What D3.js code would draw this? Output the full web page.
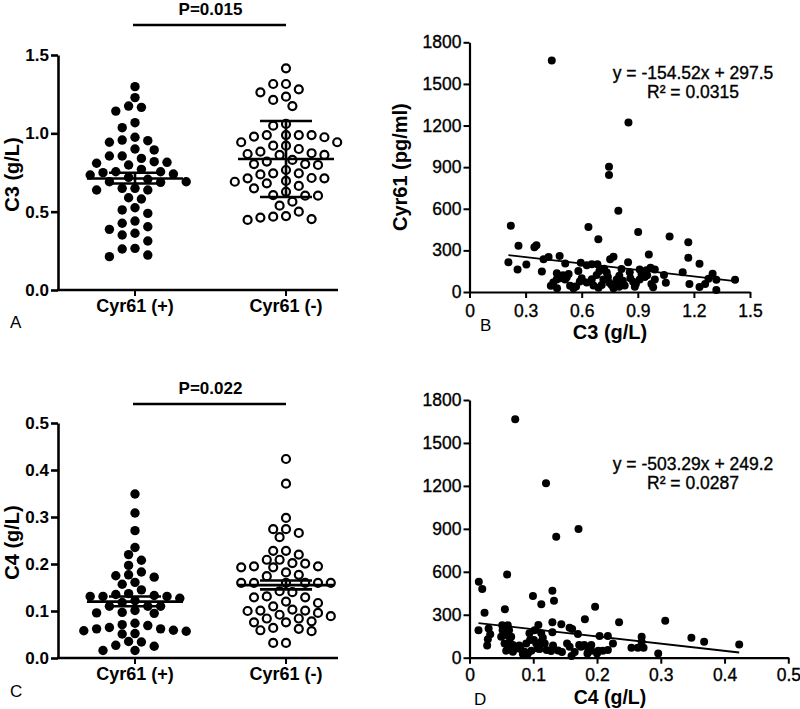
<!DOCTYPE html>
<html><head><meta charset="utf-8">
<script src="https://cdn.jsdelivr.net/npm/d3@7"></script>
<style>
html,body{margin:0;padding:0;background:#fff;}
svg{display:block;font-family:"Liberation Sans",Arial,sans-serif;}
</style></head>
<body>
<svg id="chart" width="800" height="709"></svg>
<script>
// ---------------- DATA ----------------
const groups = ["Cyr61 (+)", "Cyr61 (-)"];
const c3Pos = [1.298,1.228,1.174,1.142,1.166,1.068,1.036,0.957,0.943,0.953,0.975,0.900,0.894,0.855,0.819,0.855,0.815,0.840,0.809,0.798,0.734,0.755,0.749,0.770,0.755,0.707,0.691,0.687,0.691,0.719,0.740,0.649,0.638,0.638,0.649,0.581,0.589,0.511,0.525,0.489,0.440,0.426,0.387,0.404,0.351,0.362,0.313,0.262,0.266,0.213,0.223];
const c3Neg = [1.415,1.315,1.315,1.262,1.281,1.234,1.213,1.174,1.049,1.060,0.975,0.943,0.989,0.989,0.989,0.989,0.979,0.883,0.868,0.921,0.900,0.921,0.943,0.862,0.862,0.873,0.804,0.766,0.830,0.820,0.696,0.745,0.738,0.745,0.798,0.804,0.713,0.681,0.715,0.664,0.691,0.713,0.627,0.602,0.649,0.602,0.606,0.564,0.538,0.468,0.462,0.447,0.453,0.472,0.500];
const c4Pos = [0.349,0.3085,0.271,0.235,0.220,0.208,0.197,0.177,0.172,0.175,0.183,0.157,0.161,0.145,0.133,0.131,0.131,0.131,0.135,0.137,0.118,0.122,0.127,0.110,0.110,0.110,0.096,0.095,0.097,0.101,0.071,0.065,0.069,0.074,0.062,0.058,0.052,0.051,0.057,0.059,0.062,0.034,0.025,0.016,0.016,0.027,0.035];
const c4Neg = [0.4234,0.371,0.298,0.274,0.266,0.274,0.257,0.228,0.220,0.228,0.209,0.209,0.201,0.195,0.193,0.193,0.195,0.202,0.182,0.177,0.174,0.160,0.160,0.160,0.160,0.160,0.160,0.140,0.129,0.120,0.117,0.129,0.131,0.142,0.110,0.103,0.101,0.100,0.092,0.084,0.089,0.096,0.101,0.084,0.078,0.076,0.062,0.057,0.059,0.064,0.076,0.032,0.032];
const c3Mean = [0.712, 0.836], c3Low = [0.680, 0.594], c3High = [0.748, 1.079];
const c4Mean = [0.120, 0.155], c4Low = [0.110, 0.146], c4High = [0.131, 0.165];
const pLabels = ["P=0.015", "P=0.022"];
const c3Ticks = [0, 0.5, 1.0, 1.5];
const c4Ticks = [0, 0.1, 0.2, 0.3, 0.4, 0.5];
const cyrTicks = [0, 300, 600, 900, 1200, 1500, 1800];
const c3xTicks = [0, 0.3, 0.6, 0.9, 1.2, 1.5];
const c4xTicks = [0, 0.1, 0.2, 0.3, 0.4, 0.5];

const bX = [0.44,0.85,0.746,0.746,0.796,0.221,0.636,0.902,0.689,1.07,1.17,0.262,0.347,0.358,0.959,1.17,1.23,
 0.208,0.257,0.304,0.387,0.396,0.423,0.482,0.512,0.435,0.448,0.466,0.484,0.52,0.468,0.538,0.556,0.582,0.595,0.627,0.654,0.59,0.627,0.654,0.68,0.663,0.684,0.695,0.707,0.716,0.734,0.752,0.77,0.748,0.76,0.77,0.787,0.801,0.813,0.79,0.82,0.83,0.848,0.857,0.875,0.884,0.91,0.91,0.937,0.946,0.968,0.973,0.982,0.991,0.991,1.04,1.05,1.14,1.176,1.23,1.26,1.278,1.30,1.32,1.32,1.42,
 0.467,0.485,0.511,0.561,0.72,0.74,0.80,0.86,0.92,0.95,0.60,0.57,0.53,0.50,0.69,0.89];
const bY = [1668,1221,903,843,586,478,469,433,381,400,358,334,322,337,270,247,204,
 214,163,198,147,236,253,260,205,45,69,91,100,107,27,45,27,151,211,192,200,76,68,92,123,46,200,152,50,91,140,236,255,67,50,27,91,118,166,55,81,46,215,142,74,38,163,91,108,156,175,58,34,91,163,123,67,142,58,36,58,96,132,89,14,89,
 135,110,91,38,168,108,37,100,130,120,100,40,130,120,30,60];

const dX = [0.0717,0.120,0.171,0.136,0.0146,0.020,0.059,0.130,0.0995,0.1126,0.1325,0.0236,0.0555,0.197,0.181,0.2346,0.307,0.348,0.368,0.423,0.296,
 0.0141,0.030,0.0325,0.0288,0.0277,0.0513,0.06,0.052,0.062,0.0497,0.0576,0.0654,0.055,0.0628,0.068,0.0576,0.062,0.073,0.068,0.080,0.0837,0.0863,0.0915,0.097,0.089,0.095,0.094,0.102,0.101,0.1047,0.107,0.1125,0.1125,0.118,0.121,0.108,0.130,0.130,0.131,0.128,0.139,0.144,0.157,0.161,0.153,0.157,0.16,0.170,0.172,0.175,0.180,0.186,0.191,0.191,0.202,0.204,0.209,0.217,0.217,0.225,0.254,0.264,0.27,0.27,0.273,
 0.078,0.115,0.145,0.185,0.2,0.09,0.11,0.165];
const dY = [1665,1218,899,845,531,480,582,468,431,373,398,314,338,356,268,247,258,140,112,93,30,
 192,204,163,128,86,227,227,192,192,146,158,146,100,112,88,49,65,65,42,61,26,42,30,49,100,123,170,192,123,100,65,170,112,100,53,229,248,178,86,46,51,233,210,201,100,77,12,165,88,77,88,65,88,49,49,152,49,152,53,100,70,70,146,112,70,
 85,140,40,30,30,20,60,40];

const fitB = {slope: -154.52, intercept: 297.5, eq: "y = -154.52x + 297.5", r2: "R² = 0.0315"};
const fitD = {slope: -503.29, intercept: 249.2, eq: "y = -503.29x + 249.2", r2: "R² = 0.0287"};

// ---------------- DRAW ----------------
const FONT = '"Liberation Sans",Arial,sans-serif';
const svg = d3.select("#chart");
svg.append("rect").attr("width",800).attr("height",709).attr("fill","#fff");

// beeswarm: candidate offsets in half-column steps, nearest to centre first
function swarm(vals, y, cx, half, minDist) {
  const order = d3.range(vals.length).sort((a,b)=>vals[b]-vals[a]);
  const placed = [], out = new Array(vals.length);
  for (const i of order) {
    const py = y(vals[i]);
    for (let k=0;k<80;k++){
      const c = k===0?0:(k%2 ? -Math.ceil(k/2) : Math.ceil(k/2));
      const px = cx + c*half;
      if (!placed.some(p=>Math.hypot(p.x-px,p.y-py)<minDist)) { placed.push({x:px,y:py}); out[i]={x:px,y:py}; break; }
    }
  }
  return out;
}

function dotPanel(o) {
  const g = svg.append("g");
  const y = d3.scaleLinear().domain(o.domain).range([o.y0, o.y1]);
  const x = d3.scalePoint().domain(groups).range([135, 286]);
  const ya = g.append("g").attr("transform",`translate(58,0)`)
    .call(d3.axisLeft(y).tickValues(o.ticks).tickFormat(d3.format(".1f")).tickSize(7).tickSizeOuter(0).tickPadding(2));
  ya.select(".domain").attr("stroke","#000").attr("stroke-width",2.6);
  ya.selectAll(".tick line").attr("stroke","#000").attr("stroke-width",2.6);
  ya.selectAll(".tick text").attr("font-size",17).attr("font-weight","bold").attr("fill","#000").attr("font-family",FONT);
  g.append("line").attr("x1",57).attr("x2",338).attr("y1",o.y0).attr("y2",o.y0).attr("stroke","#000").attr("stroke-width",2.6);
  groups.forEach(c=>{
    g.append("line").attr("x1",x(c)).attr("x2",x(c)).attr("y1",o.y0).attr("y2",o.y0+6).attr("stroke","#000").attr("stroke-width",2);
    g.append("text").attr("x",x(c)).attr("y",o.y0+22).attr("text-anchor","middle")
      .attr("font-size",18).attr("font-weight","bold").text(c);
  });
  g.append("text").attr("transform",`translate(19,${(o.y0+o.y1)/2+2}) rotate(-90)`).attr("text-anchor","middle")
    .attr("font-size",20).attr("font-weight","bold").text(o.title);
  const posPts = swarm(o.pos, y, x(groups[0]), 6.4, o.gap);
  const negPts = swarm(o.neg, y, x(groups[1]), 6.4, o.gap);
  g.append("g").selectAll("circle").data(posPts).join("circle")
    .attr("cx",d=>d.x).attr("cy",d=>d.y).attr("r",4.7).attr("fill","#000");
  g.append("g").selectAll("circle").data(negPts).join("circle")
    .attr("cx",d=>d.x).attr("cy",d=>d.y).attr("r",4.0).attr("fill","#fff").attr("stroke","#000").attr("stroke-width",2.2);
  groups.forEach((c,i)=>{
    const cx = x(c);
    const ln = (x1,y1,x2,y2)=>g.append("line").attr("x1",x1).attr("y1",y1).attr("x2",x2).attr("y2",y2).attr("stroke","#000").attr("stroke-width",2.6);
    ln(cx-48, y(o.mean[i]), cx+48, y(o.mean[i]));
    ln(cx, y(o.low[i]), cx, y(o.high[i]));
    ln(cx-26, y(o.low[i]), cx+26, y(o.low[i]));
    ln(cx-26, y(o.high[i]), cx+26, y(o.high[i]));
  });
  g.append("line").attr("x1",x(groups[0])-2).attr("x2",x(groups[1])).attr("y1",o.pY).attr("y2",o.pY).attr("stroke","#000").attr("stroke-width",2.4);
  g.append("text").attr("x",(x(groups[0])+x(groups[1]))/2).attr("y",o.pY-10).attr("text-anchor","middle")
    .attr("font-size",17).attr("font-weight","bold").text(o.p);
  g.append("text").attr("x",10).attr("y",o.letterY).attr("font-size",17).text(o.letter);
}

dotPanel({domain:[0,1.5], y0:290, y1:55, ticks:c3Ticks, title:"C3 (g/L)", pos:c3Pos, neg:c3Neg, gap:10.5,
  mean:c3Mean, low:c3Low, high:c3High, p:pLabels[0], pY:25, letter:"A", letterY:328});
dotPanel({domain:[0,0.5], y0:658, y1:423, ticks:c4Ticks, title:"C4 (g/L)", pos:c4Pos, neg:c4Neg, gap:9.2,
  mean:c4Mean, low:c4Low, high:c4High, p:pLabels[1], pY:404, letter:"C", letterY:697});

function scatterPanel(o) {
  const g = svg.append("g");
  const x = d3.scaleLinear().domain(o.xDomain).range([469.5, o.xEnd]);
  const y = d3.scaleLinear().domain([0,1800]).range([o.y0, o.y1]);
  const ya = g.append("g").attr("transform","translate(469.5,0)")
    .call(d3.axisLeft(y).tickValues(cyrTicks).tickFormat(d3.format("d")).tickSize(6).tickSizeOuter(0).tickPadding(2));
  const xa = g.append("g").attr("transform",`translate(0,${o.y0})`)
    .call(d3.axisBottom(x).tickValues(o.xTicks).tickFormat(d=>d===0?"0":d3.format(".1f")(d)).tickSize(6).tickSizeOuter(0).tickPadding(o.xPad));
  [ya,xa].forEach(a=>{
    a.select(".domain").attr("stroke","#000").attr("stroke-width",2.2);
    a.selectAll(".tick line").attr("stroke","#000").attr("stroke-width",2);
    a.selectAll(".tick text").attr("font-size",17.5).attr("fill","#000").attr("stroke","#000").attr("stroke-width",0.35)
      .attr("font-family",FONT);
  });
  const pts = o.xs.map((v,i)=>({x:v,y:o.ys[i]}));
  g.append("g").selectAll("circle").data(pts).join("circle")
    .attr("cx",d=>x(d.x)).attr("cy",d=>y(d.y)).attr("r",4).attr("fill","#000");
  const [xmin,xmax] = d3.extent(o.xs);
  g.append("line").attr("x1",x(xmin)).attr("y1",y(o.fit.slope*xmin+o.fit.intercept))
    .attr("x2",x(xmax)).attr("y2",y(o.fit.slope*xmax+o.fit.intercept)).attr("stroke","#000").attr("stroke-width",1.8);
  [o.fit.eq, o.fit.r2].forEach((t,i)=>
    g.append("text").attr("x",693).attr("y",o.eqY+19*i).attr("text-anchor","middle").attr("font-size",17.5)
      .attr("stroke","#000").attr("stroke-width",0.35).text(t));
  g.append("text").attr("x",610).attr("y",o.xTitleY).attr("text-anchor","middle").attr("font-size",o.xTitleSize).attr("font-weight","bold").text(o.xTitle);
  if (o.yTitle) g.append("text").attr("transform",`translate(407,${(o.y0+o.y1)/2})rotate(-90)`).attr("text-anchor","middle")
      .attr("font-size",20).attr("font-weight","bold").text(o.yTitle);
  g.append("text").attr("x",o.letterX).attr("y",o.letterY).attr("font-size",17).text(o.letter);
}

scatterPanel({xDomain:[0,1.5], xEnd:750, y0:292, y1:42.3, xTicks:c3xTicks, xPad:7, xs:bX, ys:bY, fit:fitB,
  eqY:79, xTitle:"C3 (g/L)", xTitleY:339, xTitleSize:20, yTitle:"Cyr61 (pg/ml)", letter:"B", letterX:480, letterY:331});
scatterPanel({xDomain:[0,0.5], xEnd:788.3, y0:657.7, y1:400, xTicks:c4xTicks, xPad:5, xs:dX, ys:dY, fit:fitD,
  eqY:470, xTitle:"C4 (g/L)", xTitleY:704, xTitleSize:19.5, yTitle:null, letter:"D", letterX:474, letterY:705});
</script>
</body></html>
